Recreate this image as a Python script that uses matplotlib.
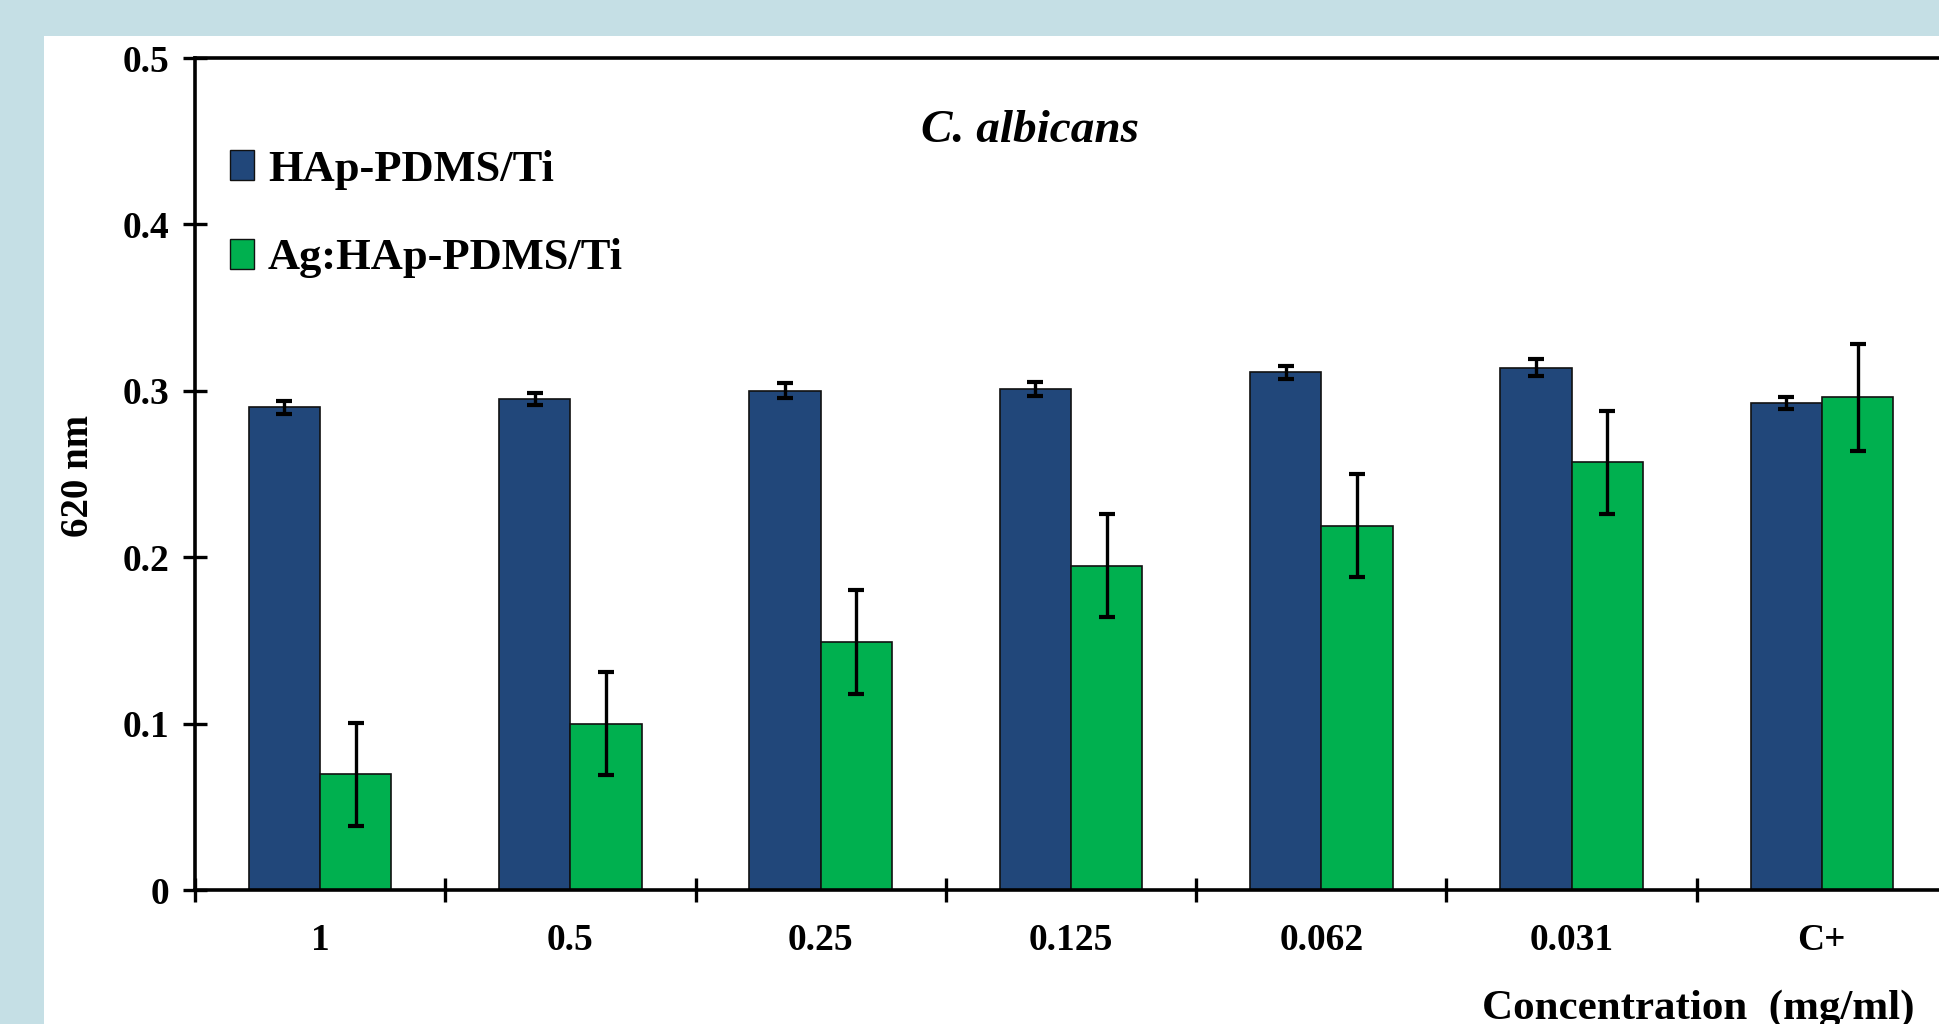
import matplotlib
matplotlib.use('Agg')
import matplotlib.pyplot as plt
from matplotlib.patches import Rectangle, Patch
import numpy as np

# data
categories = ['1', '0.5', '0.25', '0.125', '0.062', '0.031', 'C+']
hap = [0.290, 0.295, 0.300, 0.301, 0.311, 0.314, 0.2925]
hap_err = [0.004, 0.0035, 0.0045, 0.004, 0.004, 0.005, 0.0035]
aghap = [0.0695, 0.100, 0.149, 0.195, 0.219, 0.257, 0.296]
aghap_err = [0.031, 0.031, 0.031, 0.031, 0.031, 0.031, 0.032]
series_names = ['HAp-PDMS/Ti', 'Ag:HAp-PDMS/Ti']

blue = '#21477A'
green = '#00B04F'
bg = '#C5DFE5'

plt.rcParams['font.family'] = ['Liberation Serif', 'DejaVu Serif']
plt.rcParams['font.weight'] = 'bold'

W, H = 1939, 1024
fig = plt.figure(figsize=(W / 100, H / 100), dpi=100, facecolor=bg)
fig.patches.append(Rectangle((44 / W, 0), 1 - 44 / W, 1 - 36 / H,
                             transform=fig.transFigure, facecolor='white',
                             edgecolor='none', zorder=-10))

ax = fig.add_axes([195 / W, 1 - 890 / H, 1752 / W, 832 / H])
ax.set_facecolor('white')

x = np.arange(len(categories))
bw = 0.285
eb = dict(ecolor='black', elinewidth=2.4, capsize=6, capthick=3)
ax.bar(x - bw / 2, hap, bw, yerr=hap_err, color=blue, edgecolor='#111111',
       linewidth=1.2, error_kw=eb, zorder=2)
ax.bar(x + bw / 2, aghap, bw, yerr=aghap_err, color=green, edgecolor='#111111',
       linewidth=1.2, error_kw=eb, zorder=2)

ax.set_xlim(-0.5, len(categories) - 0.5)
ax.set_ylim(0, 0.5)
ax.set_yticks([0, 0.1, 0.2, 0.3, 0.4, 0.5])
ax.set_yticklabels(['0', '0.1', '0.2', '0.3', '0.4', '0.5'])
ax.set_xticks(np.arange(len(categories) + 1) - 0.5)
ax.set_xticklabels([])
ax.set_xticks(x, minor=True)
ax.set_xticklabels(categories, minor=True)

for s in ax.spines.values():
    s.set_linewidth(2.6)
ax.tick_params(axis='both', which='major', direction='inout', length=17,
               width=2.4, labelsize=27)
ax.tick_params(axis='y', pad=10)
ax.tick_params(axis='x', which='minor', length=0, labelsize=27, pad=24)

ax.text(0.4766, 0.912, 'C. albicans', transform=ax.transAxes, fontsize=34,
        fontstyle='italic', fontweight='bold', ha='center', va='center')

fig.text(78 / W, 1 - 476 / H, '620 nm', rotation=90, fontsize=28,
         fontweight='bold', ha='center', va='center')
fig.text(1698 / W, 1 - 990 / H, 'Concentration  (mg/ml)', fontsize=31,
         fontweight='bold', ha='center', va='top')

handles = [Patch(facecolor=blue, edgecolor='#111111', linewidth=1.0),
           Patch(facecolor=green, edgecolor='#111111', linewidth=1.0)]
ax.legend(handles, series_names, loc='upper left',
          bbox_to_anchor=(0.02, 0.89), frameon=False, fontsize=32,
          handlelength=0.55, handleheight=0.65, handletextpad=0.3,
          labelspacing=1.1, borderpad=0, borderaxespad=0)

fig.savefig('out.png', dpi=100, facecolor=bg)
